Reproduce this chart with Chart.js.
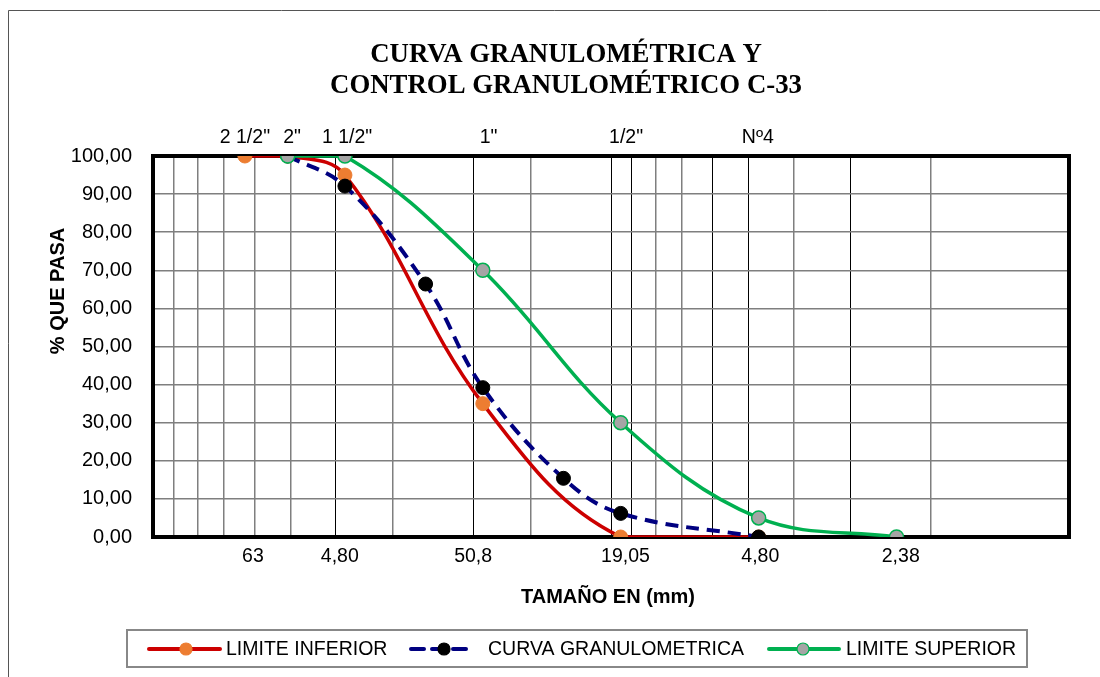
<!DOCTYPE html>
<html><head><meta charset="utf-8">
<script src="https://cdn.jsdelivr.net/npm/chart.js@4.4.1/dist/chart.umd.min.js"></script>
<style>
html,body{margin:0;padding:0;background:#fff;}
#wrap{position:relative;width:1100px;height:677px;overflow:hidden;}
canvas{display:block;}
</style></head>
<body><div id="wrap"><canvas id="c" width="1100" height="677" style="width:1100px;height:677px"></canvas></div>
<script>
// ---- data (sizes in mm, % passing) ----
const infX = [63, 50.8, 38.1, 19.05, 9.525, 4.76];
const infY = [100, 100, 95, 35, 0, 0];
const curX = [50.8, 38.1, 25.4, 19.05, 12.7, 9.525, 4.76];
const curY = [100, 92.1, 66.4, 39.2, 15.4, 6.2, 0];
const supX = [50.8, 38.1, 19.05, 9.525, 4.76, 2.38];
const supY = [100, 100, 70, 30, 5, 0];
const topLabels = ['2 1/2"', '2"', '1 1/2"', '1"', '1/2"', 'Nº4'];
const topLabelX = [63, 49.7, 37.7, 18.5, 9.27, 4.78];
const bottomLabels = ['63', '4,80', '50,8', '19,05', '4,80', '2,38'];
const bottomLabelX = [60.5, 39.1, 20, 9.3, 4.72, 2.33];
const yTicks = [0, 10, 20, 30, 40, 50, 60, 70, 80, 90, 100];
const seriesNames = ['LIMITE INFERIOR', 'CURVA GRANULOMETRICA', 'LIMITE SUPERIOR'];
const titleLines = ['CURVA GRANULOMÉTRICA Y', 'CONTROL GRANULOMÉTRICO C-33'];
const xTitle = 'TAMAÑO EN (mm)';
const yTitle = '% QUE PASA';

const pts = (xs, ys) => xs.map((x, i) => ({x: x, y: ys[i]}));
const darkGrid = [40, 20, 10, 9, 6, 5, 3];
const SANS = '"Liberation Sans", Arial, sans-serif';
const SERIF = '"Liberation Serif", "Times New Roman", serif';

const deco = {
  id: 'deco',
  beforeDraw(chart) {
    const ctx = chart.ctx;
    ctx.save();
    ctx.fillStyle = '#fff';
    ctx.fillRect(0, 0, chart.width, chart.height);
    ctx.strokeStyle = '#555';
    ctx.lineWidth = 1;
    ctx.beginPath();
    ctx.moveTo(8.5, 677); ctx.lineTo(8.5, 10.5); ctx.lineTo(1100, 10.5);
    ctx.stroke();
    ctx.restore();
  },
  beforeDatasetsDraw(chart) {
    const a = chart.chartArea, ctx = chart.ctx;
    ctx.save();
    ctx.strokeStyle = '#000';
    ctx.lineWidth = 4;
    ctx.strokeRect(a.left, a.top, a.right - a.left, a.bottom - a.top);
    ctx.restore();
  },
  afterDraw(chart) {
    const ctx = chart.ctx, xs = chart.scales.x, a = chart.chartArea;
    ctx.save();
    // title
    ctx.fillStyle = '#000';
    ctx.textAlign = 'center';
    ctx.textBaseline = 'alphabetic';
    ctx.font = 'bold 26.8px ' + SERIF;
    ctx.fillText(titleLines[0], 566, 62);
    ctx.fillText(titleLines[1], 566, 93);
    // top / bottom labels
    ctx.font = '19.5px ' + SANS;
    ctx.textBaseline = 'middle';
    topLabels.forEach((t, i) => ctx.fillText(t, xs.getPixelForValue(topLabelX[i]), 138));
    bottomLabels.forEach((t, i) => ctx.fillText(t, xs.getPixelForValue(bottomLabelX[i]), 557));
    // axis titles
    ctx.font = 'bold 20px ' + SANS;
    ctx.textBaseline = 'alphabetic';
    ctx.fillText(xTitle, (a.left + a.right) / 2 - 3, 603);
    ctx.save();
    ctx.translate(64, 291);
    ctx.rotate(-Math.PI / 2);
    ctx.fillText(yTitle, 0, 0);
    ctx.restore();
    // legend
    ctx.strokeStyle = '#888';
    ctx.lineWidth = 2;
    ctx.strokeRect(127, 630, 900, 37);
    const ly = 649;
    const items = [
      {x0: 149, x1: 220, mx: 186, col: '#CC0000', dash: [], mfill: '#ED7D31', mstroke: '#ED7D31', tx: 226},
      {x0: 411, x1: 468, mx: 444, col: '#000080', dash: [13, 8], mfill: '#000', mstroke: '#000', tx: 488},
      {x0: 769, x1: 839, mx: 803, col: '#00B050', dash: [], mfill: '#A5A5A5', mstroke: '#00B050', tx: 846}
    ];
    items.forEach((it, i) => {
      ctx.save();
      ctx.strokeStyle = it.col;
      ctx.lineWidth = 4;
      ctx.lineCap = 'round';
      ctx.setLineDash(it.dash);
      ctx.beginPath(); ctx.moveTo(it.x0, ly); ctx.lineTo(it.x1, ly); ctx.stroke();
      ctx.setLineDash([]);
      ctx.beginPath(); ctx.arc(it.mx, ly, 6, 0, Math.PI * 2);
      ctx.fillStyle = it.mfill; ctx.fill();
      ctx.lineWidth = 1.2; ctx.strokeStyle = it.mstroke; ctx.stroke();
      ctx.restore();
      ctx.font = '19.5px ' + SANS;
      ctx.textAlign = 'left';
      ctx.textBaseline = 'middle';
      ctx.fillStyle = '#000';
      ctx.fillText(seriesNames[i], it.tx, ly + 1);
    });
    ctx.restore();
  }
};

new Chart(document.getElementById('c'), {
  type: 'line',
  data: {
    datasets: [
      {
        label: seriesNames[0], data: pts(infX, infY), order: 2,
        borderColor: '#CC0000', borderWidth: 3.5, tension: 0.38,
        pointRadius: 7, pointBackgroundColor: '#ED7D31', pointBorderColor: '#ED7D31', pointBorderWidth: 1
      },
      {
        label: seriesNames[1], data: pts(curX, curY), order: 1,
        borderColor: '#000080', borderWidth: 4, borderDash: [13, 8], tension: 0.38,
        pointRadius: 7, pointBackgroundColor: '#000', pointBorderColor: '#000', pointBorderWidth: 1
      },
      {
        label: seriesNames[2], data: pts(supX, supY), order: 0,
        borderColor: '#00B050', borderWidth: 3.5, tension: 0.38,
        pointRadius: 7, pointBackgroundColor: '#A5A5A5', pointBorderColor: '#00B050', pointBorderWidth: 1.5
      }
    ]
  },
  options: {
    responsive: false,
    animation: false,
    devicePixelRatio: 1,
    layout: {padding: {top: 156, right: 31, left: 0, bottom: 0}},
    plugins: {legend: {display: false}, tooltip: {enabled: false}, title: {display: false}},
    scales: {
      x: {
        type: 'logarithmic', reverse: true, min: 1, max: 100,
        border: {display: false},
        ticks: {display: false},
        grid: {
          drawTicks: false,
          color: c => (c.tick && darkGrid.includes(c.tick.value)) ? '#000' : '#7f7f7f',
          lineWidth: c => (c.tick && darkGrid.includes(c.tick.value)) ? 1 : 1.5
        },
        afterFit: s => { s.height = 140; }
      },
      y: {
        min: 0, max: 100,
        border: {display: false},
        afterBuildTicks: s => { s.ticks = yTicks.map(v => ({value: v})); },
        ticks: {
          color: '#000', padding: 21,
          font: {family: SANS, size: 20},
          callback: v => Number(v).toFixed(2).replace('.', ',')
        },
        grid: {drawTicks: false, color: '#7f7f7f', lineWidth: 1.5},
        afterFit: s => { s.width = 153; }
      }
    }
  },
  plugins: [deco]
});
</script>
</body></html>
